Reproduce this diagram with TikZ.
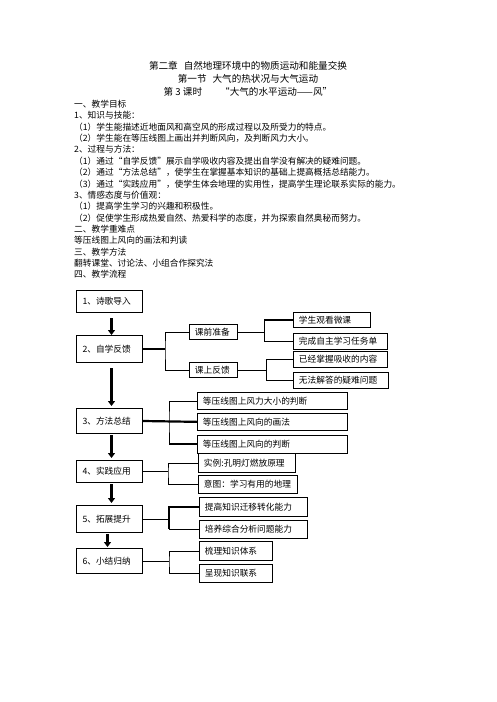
\documentclass[tikz,border=0pt]{standalone}
\usepackage{fontspec}
\newfontfamily\cjk{Noto Sans CJK SC}
\usepackage{tikz}
\tikzstyle{stage}=[rectangle,draw=black,line width=1pt,anchor=north west,
inner xsep=6pt,inner ysep=0pt,text width=54pt,align=left]
\tikzstyle{topic}=[rectangle,draw=black,line width=0.9pt,anchor=north west,
inner xsep=5.5pt,inner ysep=0pt,align=left]
\tikzstyle{txt}=[anchor=west,inner sep=0pt]
\usetikzlibrary{arrows.meta,positioning}

\begin{document}
\begin{tikzpicture}[x=1pt,y=-1pt,font=\cjk\fontsize{8.7}{10}\selectfont]
  \tikzstyle{title}=[inner sep=0pt,font=\cjk\fontsize{9.6}{11}\selectfont]
  \tikzstyle{flow}=[line width=3pt,-{Triangle[width=7pt,length=5pt]}]
  \tikzstyle{link}=[line width=0.8pt]
  \tikzstyle{bold link}=[line width=2.2pt]
  \useasboundingbox (0,0) rectangle (496,702);

  % heading
  \node[title] (h1) at (248,66) {第二章\hspace{6pt}自然地理环境中的物质运动和能量交换};
  \node[title] (h2) at (248,79) {第一节\hspace{6pt}大气的热状况与大气运动};
  \node[title] (h3) at (248,92) {第 3 课时\hspace{18pt}“大气的水平运动——风”};

  % lesson text
  \node[txt] (l1) at (74,104) {一、教学目标};
  \node[txt] (l2) at (74,115.5) {1、知识与技能：};
  \node[txt] (l3) at (74,127) {（1）学生能描述近地面风和高空风的形成过程以及所受力的特点。};
  \node[txt] (l4) at (74,138) {（2）学生能在等压线图上画出并判断风向，及判断风力大小。};
  \node[txt] (l5) at (74,149.5) {2、过程与方法：};
  \node[txt] (l6) at (74,161) {（1）通过“自学反馈”展示自学吸收内容及提出自学没有解决的疑难问题。};
  \node[txt] (l7) at (74,172.5) {（2）通过“方法总结”，使学生在掌握基本知识的基础上提高概括总结能力。};
  \node[txt] (l8) at (74,184) {（3）通过“实践应用”，使学生体会地理的实用性，提高学生理论联系实际的能力。};
  \node[txt] (l9) at (74,195) {3、情感态度与价值观：};
  \node[txt] (l10) at (74,206.5) {（1）提高学生学习的兴趣和积极性。};
  \node[txt] (l11) at (74,218) {（2）促使学生形成热爱自然、热爱科学的态度，并为探索自然奥秘而努力。};
  \node[txt] (l12) at (74,229.5) {二、教学重难点};
  \node[txt] (l13) at (74,240.5) {等压线图上风向的画法和判读};
  \node[txt] (l14) at (74,252) {三、教学方法};
  \node[txt] (l15) at (74,263) {翻转课堂、讨论法、小组合作探究法};
  \node[txt] (l16) at (74,274.5) {四、教学流程};

  % main stages
  \node[stage,minimum height=22pt] (s1) at (76,290) {1、诗歌导入};
  \node[stage,minimum height=27pt] (s2) at (76,335) {2、自学反馈};
  \node[stage,minimum height=25pt] (s3) at (76,408) {3、方法总结};
  \node[stage,minimum height=22pt] (s4) at (76,460) {4、实践应用};
  \node[stage,minimum height=27pt] (s5) at (76,505) {5、拓展提升};
  \node[stage,minimum height=25pt] (s6) at (76,548) {6、小结归纳};

  \draw[flow] ([xshift=2pt,yshift=-5pt]s1.south) -- ([xshift=2pt]s2.north);
  \draw[flow] ([xshift=2pt,yshift=-5pt]s2.south) -- ([xshift=2pt,yshift=2pt]s3.north);
  \draw[flow] ([xshift=2pt,yshift=-1pt]s3.south) -- ([xshift=2pt,yshift=2pt]s4.north);
  \draw[flow] ([xshift=2pt,yshift=-1pt]s4.south) -- ([xshift=2pt,yshift=2pt]s5.north);
  \draw[flow] ([xshift=-2pt,yshift=-1pt]s5.south) -- ([xshift=-2pt,yshift=1pt]s6.north);

  % 2: self study
  \node[topic,text width=37pt,minimum height=15pt] (t1) at (189,324) {课前准备};
  \node[topic,text width=37pt,minimum height=15pt] (t2) at (189,362) {课上反馈};
  \draw[bold link] (s2.east) -- ++(22,0) coordinate (k2);
  \draw[link] (t1.west) -| (k2) |- (t2.west);

  \node[topic,text width=66pt,minimum height=15pt] (c1) at (293,312) {学生观看微课};
  \node[topic,text width=83pt,minimum height=16pt,below=5pt of c1.south west,anchor=north west] (c2) {完成自主学习任务单};
  \node[topic,text width=83pt,minimum height=16pt] (c3) at (293,351) {已经掌握吸收的内容};
  \node[topic,text width=84pt,minimum height=16pt,below=4pt of c3.south west,anchor=north west] (c4) {无法解答的疑难问题};
  \draw[link] (t1.east) -- ++(26,0) coordinate (k3);
  \draw[link] (c1.west) -| (k3) |- (c2.west);
  \draw[line width=1.6pt] (c1.west) -- (c1.west -| k3);
  \draw[link] (t2.east) -- ++(28,0) coordinate (k4);
  \draw[link] (c3.west) -| (k4) |- (c4.west);

  % 3: summary
  \node[topic,text width=139pt,minimum height=17pt] (d1) at (197,392) {等压线图上风力大小的判断};
  \node[topic,text width=139pt,minimum height=17pt,below=3pt of d1.south west,anchor=north west] (d2) {等压线图上风向的画法};
  \node[topic,text width=139pt,minimum height=18pt,below=4pt of d2.south west,anchor=north west] (d3) {等压线图上风向的判断};
  \draw[bold link] (s3.east) -- (d2.west);
  \path (s3.east) -- ++(26,0) coordinate (k5);
  \draw[link] (d1.west) -| (k5) |- (d3.west);
  \draw[bold link] (d3.west) -- (d3.west -| k5);

  % 4: practice
  \node[topic,text width=86pt,minimum height=19pt] (e1) at (198,453) {实例:孔明灯燃放原理};
  \node[topic,text width=88pt,minimum height=18pt,below=2pt of e1.south west,anchor=north west] (e2) {意图：学习有用的地理};
  \draw[link] (s4.east) -- ++(25,0) coordinate (k6);
  \draw[link] (e1.west) -| (k6) |- (e2.west);

  % 5: extension
  \node[topic,text width=97pt,minimum height=19pt] (f1) at (199,497) {提高知识迁移转化能力};
  \node[topic,text width=97pt,minimum height=18pt,below=3pt of f1.south west,anchor=north west] (f2) {培养综合分析问题能力};
  \draw[link] (s5.east) -- ++(26,0) coordinate (k7);
  \draw[bold link] (f1.west) -| (k7) -- (k7 |- f2.west);
  \draw[link] (k7 |- f2.west) -- (f2.west);

  % 6: review
  \node[topic,text width=62pt,minimum height=19pt] (g1) at (199,541) {梳理知识体系};
  \node[topic,text width=62pt,minimum height=18pt,below=3pt of g1.south west,anchor=north west] (g2) {呈现知识联系};
  \draw[link] (s6.east) -- ++(26,0) coordinate (k8);
  \draw[link] (g1.west) -| (k8) |- (g2.west);
\end{tikzpicture}
\end{document}
